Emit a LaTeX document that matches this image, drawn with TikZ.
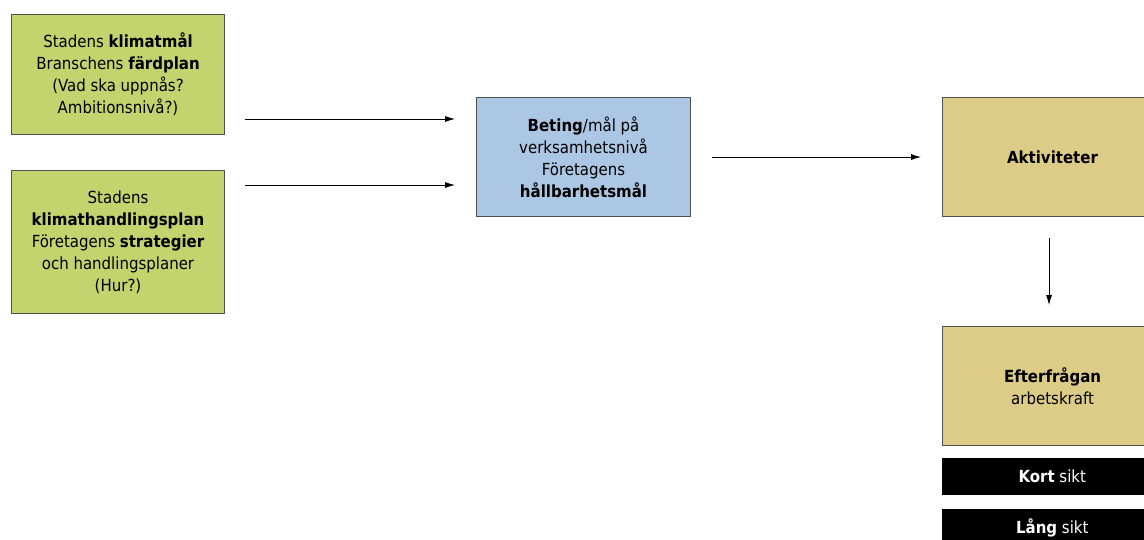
\documentclass[tikz,border=0pt]{standalone}
\usepackage{fontspec}
\setmainfont{DejaVu Sans Condensed}
\usetikzlibrary{arrows.meta}
\definecolor{goalgreen}{RGB}{195,211,110}
\definecolor{targetblue}{RGB}{172,199,228}
\definecolor{activitytan}{RGB}{221,204,136}
\definecolor{boxline}{RGB}{80,80,80}
\tikzset{%
  >={Latex[length=7.5pt,width=4.5pt]}, % default arrow style
  box/.style={draw=boxline, line width=0.8pt, align=center, anchor=north west,
    inner sep=2pt, font=\fontsize{12.5}{16.5}\selectfont},
  greenbox/.style={box, fill=goalgreen, minimum width=159.75pt},
  bluebox/.style={box, fill=targetblue, minimum width=160.5pt, minimum height=89.25pt},
  tanbox/.style={box, fill=activitytan, minimum width=165pt, minimum height=89.25pt},
  horizonbar/.style={anchor=north west, fill=black, text=white, minimum width=165pt,
    minimum height=27.75pt, inner sep=0pt, font=\fontsize{12.5}{15}\selectfont},
  flow/.style={->, line width=0.6pt, black}
}

\begin{document}
\begin{tikzpicture}[x=0.75pt,y=-0.75pt]
  \useasboundingbox (0,0) rectangle (1144,539);
  \clip (0,0) rectangle (1144,539);
  % goals and plans
  \node[greenbox, minimum height=90pt] (goals) at (11,14)
    {Stadens \textbf{klimatmål}\\Branschens \textbf{färdplan}\\(Vad ska uppnås?\\Ambitionsnivå?)};
  \node[greenbox, minimum height=107.25pt] (plans) at (11,170)
    {Stadens\\\textbf{klimathandlingsplan}\\Företagens \textbf{strategier}\\och handlingsplaner\\(Hur?)};
  % targets
  \node[bluebox] (targets) at (476,97)
    {\textbf{Beting}/mål på\\verksamhetsnivå\\Företagens\\\textbf{hållbarhetsmål}};
  % activities and demand
  \node[tanbox] (activities) at (942,97) {\textbf{Aktiviteter}};
  \node[tanbox] (demand) at (942,326) {\textbf{Efterfrågan}\\arbetskraft};
  \node[horizonbar] (short) at (942,458) {\textbf{Kort} sikt};
  \node[horizonbar] (long) at (942,509) {\textbf{Lång} sikt};
  % connectors
  \coordinate (goalsout) at (245,119);
  \coordinate (plansout) at (245,185);
  \draw[flow, shorten >=15.75pt] (goalsout) -- (goalsout -| targets.west);
  \draw[flow, shorten >=15.75pt] (plansout) -- (plansout -| targets.west);
  \draw[flow, shorten <=15.75pt, shorten >=15.75pt] (targets.east) -- (targets.east -| activities.west);
  \draw[flow, shorten <=15.75pt, shorten >=15.75pt] (activities.south -| 1049,0) -- (demand.north -| 1049,0);
\end{tikzpicture}
\end{document}
